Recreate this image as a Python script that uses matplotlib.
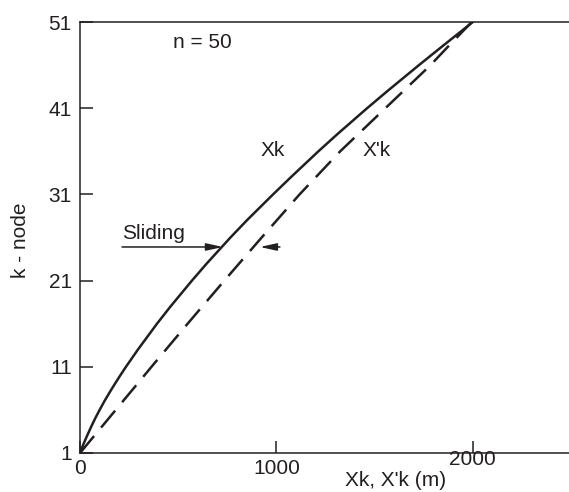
import matplotlib
matplotlib.use("Agg")
import matplotlib.pyplot as plt

plt.rcParams['font.family'] = ['Liberation Sans', 'DejaVu Sans']

# Data
k_nodes = [1, 2, 3, 4, 5, 6, 7, 8, 9, 10, 11, 13, 16, 18, 21, 23, 26, 28,
           31, 33, 36, 38, 41, 43, 46, 48, 51]
xk = [0, 17, 36, 56, 77, 100, 124, 150, 177, 205, 234, 295, 392, 461, 570,
      646, 766, 850, 983, 1074, 1214, 1311, 1462, 1566, 1726, 1835, 2000]
k_nodes_d = [1, 6, 11, 16, 21, 26, 31, 36, 41, 46, 48, 51]
xk_prime = [0, 182, 364, 548, 735, 925, 1118, 1325, 1555, 1785, 1868, 1995]

y_ticks = [1, 11, 21, 31, 41, 51]
x_ticks = [0, 1000, 2000]

ink = '#231f20'
fs = 15

fig = plt.figure(figsize=(5.69, 4.92), dpi=100)
ax = fig.add_axes([80/569, 1 - 453/492, 1 - 80/569, (453 - 22)/492])

ax.plot(xk, k_nodes, color=ink, lw=1.8, solid_joinstyle='round')
ax.plot(xk_prime, k_nodes_d, color=ink, lw=1.8, dashes=(8.8, 4.4))

ax.set_xlim(0, 2490)
ax.set_ylim(1, 51)
ax.spines['right'].set_visible(False)
for s in ax.spines.values():
    s.set_color(ink)
    s.set_linewidth(1.1)

ax.set_yticks(y_ticks)
ax.set_yticklabels([str(v) for v in y_ticks])
ax.set_xticks(x_ticks)
ax.set_xticklabels(['0', '1000', ''])
ax.tick_params(direction='in', length=9, width=1.1, color=ink,
               labelsize=fs, labelcolor=ink)
ax.tick_params(axis='y', pad=6)
ax.tick_params(axis='x', pad=4)

# shifted "2000" label as in the reference
ax.annotate('2000', xy=(2000, 0), xycoords=('data', 'axes fraction'),
            xytext=(0, 2), textcoords='offset points', ha='center', va='top',
            fontsize=fs, color=ink)

ax.text(1608 / 2490, -27 / 431, "Xk, X'k (m)", transform=ax.transAxes,
        ha='center', va='center', fontsize=fs, color=ink)
fig.text(20 / 569, 1 - 240 / 492, 'k - node', rotation=90, ha='center',
         va='center', fontsize=fs, color=ink)

ax.text(621, 48.6, 'n = 50', ha='center', va='center', fontsize=fs, color=ink)
ax.text(982, 36.15, 'Xk', ha='center', va='center', fontsize=fs, color=ink)
ax.text(1511, 36.15, "X'k", ha='center', va='center', fontsize=fs, color=ink)
ax.text(214, 25.4, 'Sliding', ha='left', va='bottom', fontsize=fs, color=ink)

arrow = dict(arrowstyle='-|>,head_length=1.0,head_width=0.22', lw=1.1,
             color=ink, shrinkA=0, shrinkB=0)
ax.annotate('', xy=(728, 24.9), xytext=(214, 24.9), arrowprops=arrow)
ax.annotate('', xy=(916, 24.9), xytext=(1018, 24.9), arrowprops=arrow)

fig.savefig('out.png', dpi=100)
